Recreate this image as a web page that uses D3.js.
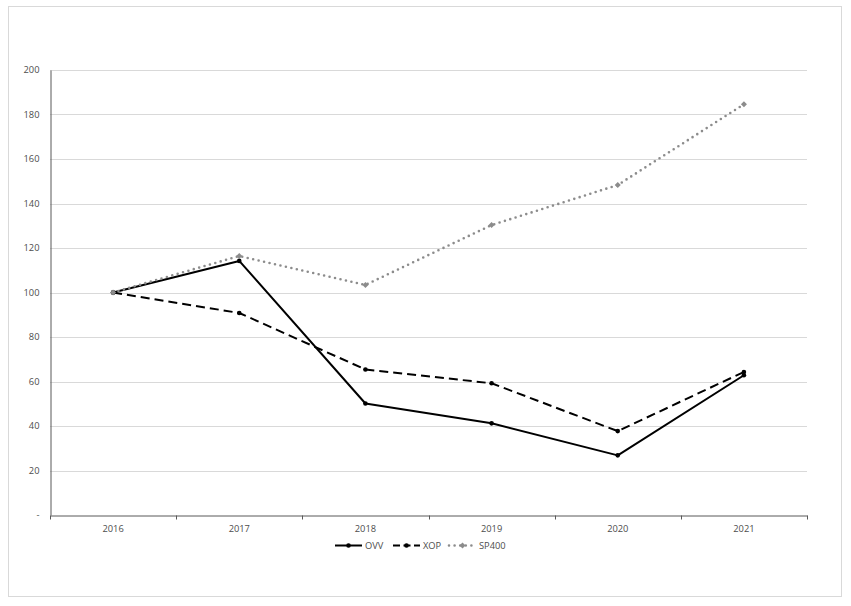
<!DOCTYPE html>
<html lang="en">
<head>
<meta charset="UTF-8">
<title>OVV vs XOP vs SP400</title>
<script src="https://d3js.org/d3.v7.min.js"></script>
<style>
  body { margin: 0; padding: 0; background: #fff; }
  svg { display: block; }
  .grid line { stroke: #d9d9d9; stroke-width: 1; }
  .axis text { font-family: "Open Sans", "Liberation Sans", sans-serif; font-size: 9.3px; fill: #4d4d4d; }
  .legend text { font-family: "Open Sans", "Liberation Sans", sans-serif; font-size: 9.3px; fill: #4d4d4d; }
</style>
</head>
<body>
<svg width="851" height="606"></svg>
<script>
// data
const years = ["2016", "2017", "2018", "2019", "2020", "2021"];
const ovv = [100, 114.2, 50.1, 41.2, 26.8, 62.8];
const xop = [100, 90.8, 65.4, 59.2, 37.7, 64.3];
const sp400 = [100, 116.4, 103.4, 130.3, 148.3, 184.6];
const yTicks = [0, 20, 40, 60, 80, 100, 120, 140, 160, 180, 200];

const series = [
  { name: "OVV", values: ovv, color: "#000", width: 2, dash: null, cap: "butt" },
  { name: "XOP", values: xop, color: "#000", width: 2, dash: "9,5", cap: "butt" },
  { name: "SP400", values: sp400, color: "#8c8c8c", width: 2.6, dash: "0,5.6", cap: "round" }
];

const svg = d3.select("svg");

// chart frame
svg.append("rect")
  .attr("x", 8.5).attr("y", 6.5)
  .attr("width", 833).attr("height", 590)
  .attr("fill", "#fff").attr("stroke", "#d9d9d9");

const plotL = 50, plotR = 807, plotT = 70, plotB = 515;

const x = d3.scaleBand().domain(years).range([plotL, plotR]);
const y = d3.scaleLinear().domain([0, 200]).range([plotB, plotT]);

// gridlines
svg.append("g").attr("class", "grid")
  .selectAll("line").data(yTicks.filter(d => d > 0)).enter().append("line")
  .attr("x1", plotL).attr("x2", plotR)
  .attr("y1", d => Math.round(y(d)) + 0.5).attr("y2", d => Math.round(y(d)) + 0.5);

// y axis
const yAxis = svg.append("g").attr("class", "axis")
  .attr("transform", `translate(${plotL + 0.5},0)`)
  .call(d3.axisLeft(y).tickValues(yTicks).tickSize(0).tickPadding(11)
    .tickFormat(d => d === 0 ? "-" : d));
yAxis.select(".domain").attr("stroke", "#595959");

// x axis: ticks between categories
const xAxis = svg.append("g").attr("class", "axis")
  .attr("transform", `translate(0,${plotB + 0.5})`)
  .call(d3.axisBottom(x).tickSize(0).tickPadding(10));
xAxis.select(".domain").attr("stroke", "#595959");
const boundaries = years.map(d => x(d)).concat([plotR]);
xAxis.selectAll(".sep").data(boundaries).enter().append("line")
  .attr("class", "sep")
  .attr("x1", d => Math.round(d) + 0.5).attr("x2", d => Math.round(d) + 0.5)
  .attr("y1", 0).attr("y2", 4)
  .attr("stroke", "#595959");

// lines
const cx = d => x(d) + x.bandwidth() / 2;
const line = d3.line().x((d, i) => cx(years[i])).y(d => y(d));

series.forEach(s => {
  svg.append("path")
    .datum(s.values)
    .attr("d", line)
    .attr("fill", "none")
    .attr("stroke", s.color)
    .attr("stroke-width", s.width)
    .attr("stroke-dasharray", s.dash)
    .attr("stroke-linecap", s.cap)
    .attr("stroke-linejoin", "round");
});

// markers
const diamond = d3.symbol().type(d3.symbolSquare).size(18);
series.forEach(s => {
  const g = svg.append("g");
  if (s.name === "SP400") {
    g.selectAll("path").data(s.values).enter().append("path")
      .attr("d", diamond)
      .attr("transform", (d, i) => `translate(${cx(years[i])},${y(d)}) rotate(45)`)
      .attr("fill", s.color);
  } else {
    g.selectAll("circle").data(s.values).enter().append("circle")
      .attr("cx", (d, i) => cx(years[i])).attr("cy", d => y(d))
      .attr("r", 2.3).attr("fill", s.color);
  }
});

// legend
const legendX = [335, 393, 449];
const legend = svg.append("g").attr("class", "legend");
series.forEach((s, i) => {
  const lx = legendX[i], ly = 545.5;
  legend.append("line")
    .attr("x1", lx).attr("x2", lx + 27).attr("y1", ly).attr("y2", ly)
    .attr("stroke", s.color).attr("stroke-width", s.width)
    .attr("stroke-dasharray", s.name === "XOP" ? "7,3.5" : s.dash)
    .attr("stroke-linecap", s.cap);
  if (s.name === "SP400") {
    legend.append("path").attr("d", diamond)
      .attr("transform", `translate(${lx + 13.5},${ly}) rotate(45)`).attr("fill", s.color);
  } else {
    legend.append("circle").attr("cx", lx + 13.5).attr("cy", ly)
      .attr("r", 2.3).attr("fill", s.color);
  }
  legend.append("text")
    .attr("x", lx + 30).attr("y", ly + 3.2)
    .text(s.name);
});
</script>
</body>
</html>
